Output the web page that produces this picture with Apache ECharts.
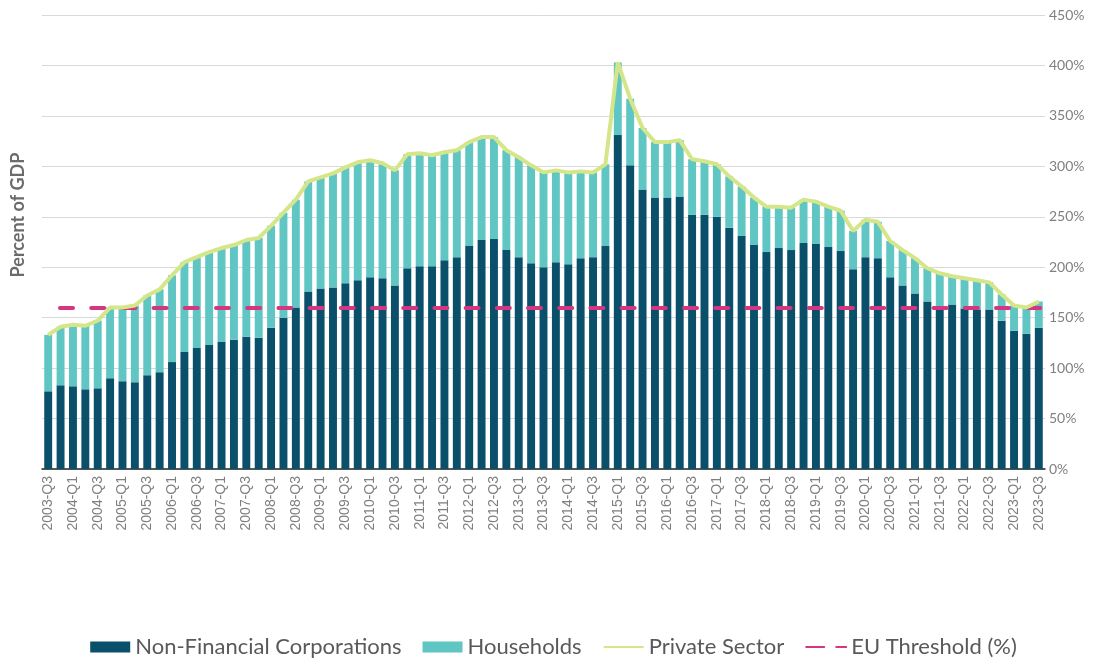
<!DOCTYPE html>
<html>
<head>
<meta charset="utf-8">
<script src="https://cdn.jsdelivr.net/npm/echarts@6/dist/echarts.min.js"></script>
<style>
  html, body { margin: 0; padding: 0; background: #fff; }
  #chart { width: 1107px; height: 661px; }
</style>
</head>
<body>
<div id="chart"></div>
<script>
// quarters 2003-Q3 .. 2023-Q3
const quarters = [
  '2003-Q3', '2003-Q4',
  '2004-Q1', '2004-Q2', '2004-Q3', '2004-Q4',
  '2005-Q1', '2005-Q2', '2005-Q3', '2005-Q4',
  '2006-Q1', '2006-Q2', '2006-Q3', '2006-Q4',
  '2007-Q1', '2007-Q2', '2007-Q3', '2007-Q4',
  '2008-Q1', '2008-Q2', '2008-Q3', '2008-Q4',
  '2009-Q1', '2009-Q2', '2009-Q3', '2009-Q4',
  '2010-Q1', '2010-Q2', '2010-Q3', '2010-Q4',
  '2011-Q1', '2011-Q2', '2011-Q3', '2011-Q4',
  '2012-Q1', '2012-Q2', '2012-Q3', '2012-Q4',
  '2013-Q1', '2013-Q2', '2013-Q3', '2013-Q4',
  '2014-Q1', '2014-Q2', '2014-Q3', '2014-Q4',
  '2015-Q1', '2015-Q2', '2015-Q3', '2015-Q4',
  '2016-Q1', '2016-Q2', '2016-Q3', '2016-Q4',
  '2017-Q1', '2017-Q2', '2017-Q3', '2017-Q4',
  '2018-Q1', '2018-Q2', '2018-Q3', '2018-Q4',
  '2019-Q1', '2019-Q2', '2019-Q3', '2019-Q4',
  '2020-Q1', '2020-Q2', '2020-Q3', '2020-Q4',
  '2021-Q1', '2021-Q2', '2021-Q3', '2021-Q4',
  '2022-Q1', '2022-Q2', '2022-Q3', '2022-Q4',
  '2023-Q1', '2023-Q2', '2023-Q3'
]

// % of GDP
const nonFinancialCorps = [
  77, 83,
  82, 79, 80, 90,
  87, 86, 93, 96,
  106, 116, 120, 123,
  126, 128, 131, 130,
  140, 150, 160, 176,
  179, 180, 184, 187,
  190, 189, 182, 199,
  201, 201, 207, 210,
  221, 227, 228, 217,
  210, 204, 200, 205,
  203, 209, 210, 221,
  331, 301, 277, 269,
  269, 270, 252, 252,
  250, 239, 231, 222,
  215, 219, 217, 224,
  223, 220, 216, 198,
  210, 209, 190, 182,
  174, 166, 160, 163,
  159, 158, 158, 147,
  137, 134, 140
]

const households = [
  56, 58,
  61, 63, 67, 70,
  73, 76, 79, 82,
  86, 89, 90, 92,
  93, 94, 96, 99,
  101, 104, 107, 109,
  110, 113, 115, 117,
  116, 114, 114, 113,
  112, 110, 107, 106,
  103, 102, 101, 99,
  99, 97, 94, 91,
  91, 86, 84, 81,
  72, 66, 61, 55,
  55, 56, 55, 53,
  52, 51, 49, 47,
  45, 41, 42, 43,
  42, 40, 40, 38,
  37, 36, 36, 35,
  35, 33, 34, 28,
  30, 29, 27, 26,
  25, 26, 26
]

const privateSector = [
  133, 141,
  143, 142, 147, 160,
  160, 162, 172, 178,
  192, 205, 210, 215,
  219, 222, 227, 229,
  241, 254, 267, 285,
  289, 293, 299, 304,
  306, 303, 296, 312,
  313, 311, 314, 316,
  324, 329, 329, 316,
  309, 301, 294, 296,
  294, 295, 294, 302,
  403, 367, 338, 324,
  324, 326, 307, 305,
  302, 290, 280, 269,
  260, 260, 259, 267,
  265, 260, 256, 236,
  247, 245, 226, 217,
  209, 199, 194, 191,
  189, 187, 185, 173,
  162, 160, 166
]

const euThreshold = 160
const yTicks = { min: 0, max: 450, interval: 50 }

const NFC_COLOR = '#0b506b'
const HH_COLOR = '#5fc6c3'
const PRIVATE_COLOR = '#d5e68a'
const EU_COLOR = '#d63580'

const chart = echarts.init(document.getElementById('chart'))

// dashed threshold style
const euLine = { color: EU_COLOR, width: 4, type: [13, 18.2], dashOffset: 13.2, cap: 'round' }

const option = {
  animation: false,
  backgroundColor: '#ffffff',
  grid: { left: 42, right: 62, top: 15, bottom: 192 },
  legend: {
    top: 631,
    left: 'center',
    itemWidth: 40,
    itemHeight: 11,
    itemGap: 21,
    textStyle: { fontFamily: 'Lato', fontSize: 22, color: '#595959' },
    data: [
      { name: 'Non-Financial Corporations', icon: 'rect' },
      { name: 'Households', icon: 'rect' },
      { name: 'Private Sector', itemStyle: { opacity: 0 } },
      { name: 'EU Threshold (%)', itemStyle: { opacity: 0 } }
    ]
  },
  graphic: [{
    type: 'text',
    x: 18,
    y: 215,
    rotation: Math.PI / 2,
    style: {
      text: 'Percent of GDP',
      fontFamily: 'Lato',
      fontSize: 18,
      fontWeight: 'bold',
      fill: '#6b6b6b',
      align: 'center',
      verticalAlign: 'middle'
    }
  }],
  xAxis: {
    type: 'category',
    data: quarters,
    axisTick: { show: false },
    axisLine: { lineStyle: { color: '#262626', width: 1.5 } },
    axisLabel: {
      interval: 1,
      rotate: 90,
      margin: 7,
      fontFamily: 'Liberation Sans',
      fontSize: 14,
      color: '#7f7f7f'
    }
  },
  yAxis: {
    type: 'value',
    position: 'right',
    min: yTicks.min,
    max: yTicks.max,
    interval: yTicks.interval,
    axisLine: { show: false },
    axisTick: { show: false },
    splitLine: { lineStyle: { color: '#d9d9d9', width: 1 } },
    axisLabel: {
      formatter: '{value}%',
      margin: 4,
      fontFamily: 'Lato',
      fontSize: 14,
      color: '#808080'
    }
  },
  series: [
    {
      name: 'Non-Financial Corporations',
      type: 'bar',
      stack: 'debt',
      data: nonFinancialCorps,
      barCategoryGap: '36%',
      itemStyle: { color: NFC_COLOR }
    },
    {
      name: 'Households',
      type: 'bar',
      stack: 'debt',
      data: households,
      itemStyle: { color: HH_COLOR }
    },
    {
      name: 'Private Sector',
      type: 'line',
      data: privateSector,
      symbol: 'none',
      z: 5,
      lineStyle: { color: PRIVATE_COLOR, width: 4 },
      itemStyle: { color: PRIVATE_COLOR }
    },
    {
      name: 'EU Threshold (%)',
      type: 'line',
      data: [],
      symbol: 'none',
      z: 6,
      lineStyle: { color: EU_COLOR, width: 4, type: [18, 12], cap: 'round' },
      itemStyle: { color: EU_COLOR },
      markLine: {
        silent: true,
        symbol: 'none',
        label: { show: false },
        lineStyle: euLine,
        data: [{ yAxis: euThreshold }]
      }
    }
  ]
}

chart.setOption(option)
</script>
</body>
</html>
